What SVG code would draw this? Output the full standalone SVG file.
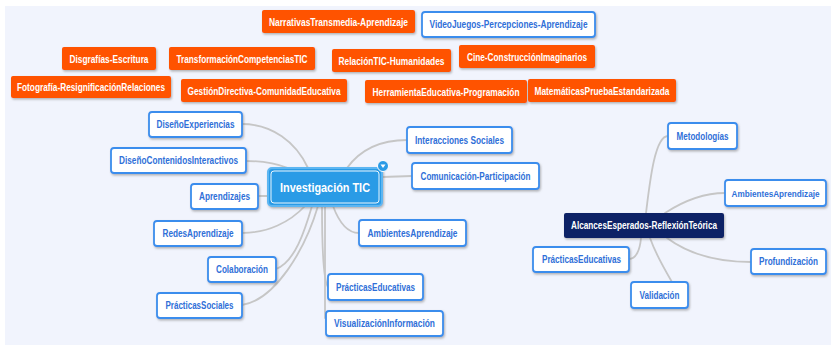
<svg xmlns="http://www.w3.org/2000/svg" width="831" height="346" viewBox="0 0 831 346">
<defs>
<filter id="sh" x="-10%" y="-20%" width="130%" height="160%">
<feDropShadow dx="1" dy="1.5" stdDeviation="0.8" flood-color="#7a7a7a" flood-opacity="0.55"/>
</filter>
</defs>
<style>
.bg{fill:#f1f4fd}
.o rect{fill:#ff5300;filter:url(#sh)}
.o text{fill:#ffffff;font-family:"Liberation Sans",Arial,sans-serif;font-weight:bold;font-size:10px;text-anchor:middle}
.w rect{fill:#ffffff;stroke:#3b8ded;stroke-width:1.8;filter:url(#sh)}
.w text{fill:#2f6fd8;font-family:"Liberation Sans",Arial,sans-serif;font-weight:bold;font-size:10px;text-anchor:middle}
.c path{fill:none;stroke:#c6c6c6;stroke-width:1.8;stroke-linecap:round}
</style>
<rect x="0" y="0" width="831" height="346" fill="#ffffff"/>
<rect class="bg" x="5" y="6" width="826" height="339"/>

<g id="connectors" class="c">
<path d="M242,124 C272,124 296,142 308,168"/>
<path d="M246,161 C262,161 275,163 288,168"/>
<path d="M258,196 L268,196"/>
<path d="M242,233 C268,233 290,222 305,206"/>
<path d="M276,269 C295,262 305,230 312,206"/>
<path d="M242,305 C275,300 305,250 318,206"/>
<path d="M322,206 C322,240 323,280 328,287"/>
<path d="M325,206 L325,318"/>
<path d="M333,206 C340,225 348,233 359,233"/>
<path d="M347,168 C360,150 380,140 407,140"/>
<path d="M382,177 L412,176"/>
<path d="M646,213 C650,180 655,136 668,136"/>
<path d="M665,213 C685,200 705,193 725,193"/>
<path d="M667,238 C690,255 720,262 751,262"/>
<path d="M650,238 C656,255 665,270 672,282"/>
<path d="M641,238 C640,250 636,259 629,259"/>
</g>

<g id="n-narrativas" class="o"><rect x="262" y="10" width="153" height="23" rx="2"/><text x="338.5" y="25.5" textLength="139" lengthAdjust="spacingAndGlyphs">NarrativasTransmedia-Aprendizaje</text></g>
<g id="n-videojuegos" class="w"><rect x="422" y="12" width="173" height="25" rx="3"/><text x="508.5" y="28" textLength="158" lengthAdjust="spacingAndGlyphs">VideoJuegos-Percepciones-Aprendizaje</text></g>
<g id="n-disgrafias" class="o"><rect x="62" y="47" width="94" height="23" rx="2"/><text x="109" y="62.5" textLength="79" lengthAdjust="spacingAndGlyphs">Disgrafías-Escritura</text></g>
<g id="n-transformacion" class="o"><rect x="169" y="47" width="146" height="23" rx="2"/><text x="242" y="62.5" textLength="131" lengthAdjust="spacingAndGlyphs">TransformaciónCompetenciasTIC</text></g>
<g id="n-relacion" class="o"><rect x="332" y="49" width="119" height="23" rx="2"/><text x="391.5" y="64.5" textLength="106" lengthAdjust="spacingAndGlyphs">RelaciónTIC-Humanidades</text></g>
<g id="n-cine" class="o"><rect x="459" y="45" width="136" height="23" rx="2"/><text x="527" y="60.5" textLength="120" lengthAdjust="spacingAndGlyphs">Cine-ConstrucciónImaginarios</text></g>
<g id="n-fotografia" class="o"><rect x="11" y="76" width="160" height="22" rx="2"/><text x="91" y="90.5" textLength="148" lengthAdjust="spacingAndGlyphs">Fotografía-ResignificaciónRelaciones</text></g>
<g id="n-gestion" class="o"><rect x="181" y="79" width="166" height="23" rx="2"/><text x="264" y="94.5" textLength="153" lengthAdjust="spacingAndGlyphs">GestiónDirectiva-ComunidadEducativa</text></g>
<g id="n-herramienta" class="o"><rect x="365" y="80" width="162" height="23" rx="2"/><text x="446" y="95.5" textLength="147" lengthAdjust="spacingAndGlyphs">HerramientaEducativa-Programación</text></g>
<g id="n-matematicas" class="o"><rect x="528" y="79" width="148" height="23" rx="2"/><text x="602" y="94.5" textLength="135" lengthAdjust="spacingAndGlyphs">MatemáticasPruebaEstandarizada</text></g>

<g id="n-disenoexp" class="w"><rect x="149" y="112" width="93" height="25" rx="3"/><text x="195.5" y="128" textLength="78" lengthAdjust="spacingAndGlyphs">DiseñoExperiencias</text></g>
<g id="n-disenocont" class="w"><rect x="111" y="148" width="135" height="25" rx="3"/><text x="178.5" y="164" textLength="119" lengthAdjust="spacingAndGlyphs">DiseñoContenidosInteractivos</text></g>
<g id="n-aprendizajes" class="w"><rect x="191" y="184" width="67" height="25" rx="3"/><text x="224.5" y="200" textLength="51" lengthAdjust="spacingAndGlyphs">Aprendizajes</text></g>
<g id="n-redes" class="w"><rect x="154" y="221" width="88" height="25" rx="3"/><text x="198" y="237" textLength="71" lengthAdjust="spacingAndGlyphs">RedesAprendizaje</text></g>
<g id="n-colaboracion" class="w"><rect x="208" y="257" width="68" height="25" rx="3"/><text x="242" y="273" textLength="52" lengthAdjust="spacingAndGlyphs">Colaboración</text></g>
<g id="n-practsociales" class="w"><rect x="157" y="293" width="85" height="25" rx="3"/><text x="199.5" y="309" textLength="68" lengthAdjust="spacingAndGlyphs">PrácticasSociales</text></g>
<g id="n-interacciones" class="w"><rect x="407" y="127" width="105" height="26" rx="3"/><text x="459.5" y="143.5" textLength="89" lengthAdjust="spacingAndGlyphs">Interacciones Sociales</text></g>
<g id="n-comunicacion" class="w"><rect x="412" y="163" width="127" height="26" rx="3"/><text x="475.5" y="179.5" textLength="110" lengthAdjust="spacingAndGlyphs">Comunicación-Participación</text></g>
<g id="n-ambientes1" class="w"><rect x="359" y="220" width="107" height="26" rx="3"/><text x="412.5" y="236.5" textLength="90" lengthAdjust="spacingAndGlyphs">AmbientesAprendizaje</text></g>
<g id="n-practeduc1" class="w"><rect x="328" y="274" width="95" height="26" rx="3"/><text x="375.5" y="290.5" textLength="79" lengthAdjust="spacingAndGlyphs">PrácticasEducativas</text></g>
<g id="n-visualizacion" class="w"><rect x="326" y="311" width="117" height="25" rx="3"/><text x="384.5" y="327" textLength="101" lengthAdjust="spacingAndGlyphs">VisualizaciónInformación</text></g>

<g id="n-central">
<rect x="268" y="168" width="114" height="38" rx="4" fill="#2b9be6" stroke="#5db6f2" stroke-width="2" filter="url(#sh)"/>
<rect x="271" y="171" width="108" height="32" rx="3" fill="none" stroke="#e8f5fd" stroke-width="1"/>
<text x="325" y="192" fill="#ffffff" font-family="'Liberation Sans',Arial,sans-serif" font-weight="bold" font-size="13" text-anchor="middle" textLength="90" lengthAdjust="spacingAndGlyphs">Investigación TIC</text>
<circle cx="383" cy="166" r="5.5" fill="#2b9be6" stroke="#ffffff" stroke-width="1"/>
<path d="M380.5,164.5 L385.5,164.5 L383,168 Z" fill="#ffffff"/>
</g>

<g id="n-alcances">
<rect x="564" y="213" width="160" height="25" rx="2" fill="#0c2366" filter="url(#sh)"/>
<text x="644" y="229" fill="#ffffff" font-family="'Liberation Sans',Arial,sans-serif" font-weight="bold" font-size="10" text-anchor="middle" textLength="146" lengthAdjust="spacingAndGlyphs">AlcancesEsperados-ReflexiónTeórica</text>
</g>
<g id="n-metodologias" class="w"><rect x="668" y="123" width="69" height="26" rx="3"/><text x="702.5" y="139.5" textLength="52" lengthAdjust="spacingAndGlyphs">Metodologías</text></g>
<g id="n-ambientes2" class="w"><rect x="725" y="180" width="101" height="26" rx="3"/><text x="775.5" y="196.5" style="font-size:9px" textLength="88" lengthAdjust="spacingAndGlyphs">AmbientesAprendizaje</text></g>
<g id="n-practeduc2" class="w"><rect x="533" y="247" width="96" height="25" rx="3"/><text x="581.5" y="263" textLength="79" lengthAdjust="spacingAndGlyphs">PrácticasEducativas</text></g>
<g id="n-profundizacion" class="w"><rect x="751" y="249" width="75" height="25" rx="3"/><text x="788.5" y="265" textLength="59" lengthAdjust="spacingAndGlyphs">Profundización</text></g>
<g id="n-validacion" class="w"><rect x="631" y="282" width="57" height="26" rx="3"/><text x="659.5" y="298.5" textLength="40" lengthAdjust="spacingAndGlyphs">Validación</text></g>
</svg>
